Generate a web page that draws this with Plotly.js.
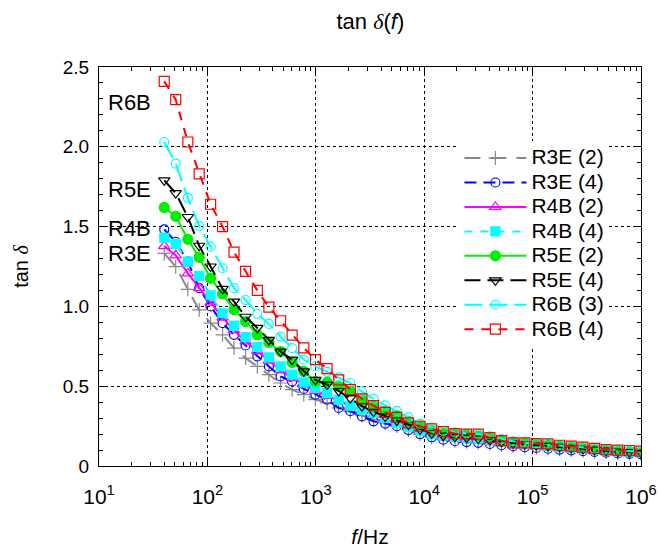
<!DOCTYPE html>
<html>
<head>
<meta charset="utf-8">
<script src="https://cdn.plot.ly/plotly-3.0.1.min.js"></script>
<style>html,body{margin:0;padding:0;background:#fff;}#chart{width:659px;height:548px;}</style>
</head>
<body>
<div id="chart"></div>
<script>
const freq = [40, 51, 66, 84, 107, 138, 176, 225, 289, 369, 473, 605, 775, 992, 1270, 1626, 2081, 2664, 3411, 4367, 5590, 7156, 9161, 11730, 15010, 19220, 24610, 31500, 40330, 51630, 66100, 84620, 108300, 138700, 177500, 227300, 291000, 372500, 476900, 610500, 781600, 1000000];

const r3e2 = [1.332, 1.249, 1.107, 0.978, 0.895, 0.822, 0.739, 0.676, 0.624, 0.572, 0.52, 0.478, 0.447, 0.416, 0.395, 0.364, 0.34, 0.315, 0.29, 0.27, 0.25, 0.225, 0.2, 0.18, 0.165, 0.158, 0.153, 0.148, 0.14, 0.132, 0.125, 0.12, 0.115, 0.11, 0.105, 0.1, 0.095, 0.09, 0.086, 0.082, 0.079, 0.076];
const r3e4 = [1.482, 1.405, 1.28, 1.114, 1.0, 0.895, 0.822, 0.755, 0.686, 0.624, 0.561, 0.53, 0.483, 0.447, 0.416, 0.364, 0.343, 0.311, 0.28, 0.266, 0.249, 0.225, 0.2, 0.18, 0.165, 0.155, 0.15, 0.145, 0.138, 0.13, 0.124, 0.118, 0.113, 0.108, 0.103, 0.098, 0.093, 0.088, 0.083, 0.079, 0.076, 0.073];
const r4b2 = [1.378, 1.32, 1.207, 1.114, 1.024, 0.93, 0.85, 0.78, 0.72, 0.66, 0.6, 0.55, 0.51, 0.47, 0.44, 0.41, 0.375, 0.345, 0.32, 0.295, 0.27, 0.245, 0.215, 0.195, 0.18, 0.17, 0.165, 0.16, 0.15, 0.14, 0.131, 0.125, 0.12, 0.115, 0.11, 0.104, 0.098, 0.092, 0.087, 0.082, 0.078, 0.075];
const r4b4 = [1.43, 1.39, 1.28, 1.19, 1.07, 0.957, 0.878, 0.807, 0.745, 0.68, 0.624, 0.572, 0.524, 0.489, 0.457, 0.416, 0.378, 0.353, 0.333, 0.301, 0.27, 0.245, 0.22, 0.2, 0.19, 0.182, 0.177, 0.172, 0.162, 0.152, 0.143, 0.137, 0.131, 0.126, 0.12, 0.113, 0.107, 0.101, 0.095, 0.091, 0.087, 0.083];
const r5e2 = [1.62, 1.565, 1.42, 1.307, 1.176, 1.078, 0.98, 0.905, 0.822, 0.774, 0.717, 0.649, 0.593, 0.53, 0.524, 0.50, 0.468, 0.416, 0.374, 0.343, 0.316, 0.28, 0.25, 0.222, 0.205, 0.198, 0.193, 0.188, 0.174, 0.16, 0.15, 0.145, 0.14, 0.135, 0.128, 0.121, 0.114, 0.107, 0.1, 0.096, 0.092, 0.088];
const r5e4 = [1.79, 1.71, 1.56, 1.38, 1.25, 1.11, 1.03, 0.935, 0.865, 0.79, 0.717, 0.666, 0.593, 0.54, 0.51, 0.47, 0.425, 0.375, 0.34, 0.31, 0.285, 0.26, 0.23, 0.205, 0.19, 0.183, 0.178, 0.172, 0.162, 0.152, 0.143, 0.137, 0.131, 0.126, 0.12, 0.114, 0.108, 0.102, 0.096, 0.091, 0.087, 0.083];
const r6b3 = [2.03, 1.895, 1.68, 1.503, 1.374, 1.239, 1.114, 1.04, 0.953, 0.89, 0.81, 0.739, 0.666, 0.624, 0.59, 0.555, 0.52, 0.468, 0.42, 0.38, 0.345, 0.305, 0.265, 0.24, 0.22, 0.21, 0.205, 0.2, 0.185, 0.168, 0.155, 0.148, 0.142, 0.138, 0.13, 0.123, 0.116, 0.109, 0.102, 0.097, 0.093, 0.089];
const r6b4 = [2.41, 2.295, 2.03, 1.83, 1.64, 1.50, 1.34, 1.22, 1.10, 0.995, 0.91, 0.82, 0.74, 0.666, 0.61, 0.54, 0.478, 0.42, 0.378, 0.336, 0.305, 0.27, 0.249, 0.232, 0.216, 0.203, 0.20, 0.20, 0.178, 0.159, 0.145, 0.145, 0.14, 0.139, 0.13, 0.124, 0.118, 0.111, 0.103, 0.099, 0.097, 0.093];

const seriesNames = ['R3E (2)', 'R3E (4)', 'R4B (2)', 'R4B (4)', 'R5E (2)', 'R5E (4)', 'R6B (3)', 'R6B (4)'];
const seriesData = [r3e2, r3e4, r4b2, r4b4, r5e2, r5e4, r6b3, r6b4];

const xTickVals = [10, 100, 1000, 10000, 100000, 1000000];
const xTickText = ['10<sup>1</sup>', '10<sup>2</sup>', '10<sup>3</sup>', '10<sup>4</sup>', '10<sup>5</sup>', '10<sup>6</sup>'];
const yTickVals = [0, 0.5, 1.0, 1.5, 2.0, 2.5];
const yTickText = ['0', '0.5', '1.0', '1.5', '2.0', '2.5'];
const sampleLabels = ['R6B', 'R5E', 'R4B', 'R3E'];
const sampleLabelY = [2.28, 1.73, 1.49, 1.33];

const styles = [
  {color: '#888888', dash: '16px,10px', symbol: 'cross-thin-open', size: 10},
  {color: '#0000ff', dash: '12px,7px', symbol: 'circle-open', size: 9},
  {color: '#ff00ff', dash: 'solid', symbol: 'triangle-up-open', size: 10},
  {color: '#00ffff', dash: '8px,8px', symbol: 'square', size: 9},
  {color: '#00ee00', dash: 'solid', symbol: 'circle', size: 10},
  {color: '#000000', dash: '16px,7px', symbol: 'triangle-down-open', size: 10},
  {color: '#00ffff', dash: '18px,7px', symbol: 'circle-open', size: 9},
  {color: '#ff0000', dash: '9px,8px', symbol: 'square-open', size: 10}
];

const traces = seriesData.map((ys, i) => ({
  type: 'scatter',
  mode: 'lines+markers',
  name: '<span style="font-size:21px">' + seriesNames[i] + '</span>',
  x: freq,
  y: ys,
  line: {color: styles[i].color, width: 2, dash: styles[i].dash},
  marker: {symbol: styles[i].symbol, size: styles[i].size, color: styles[i].color,
           line: {color: styles[i].color, width: 1.2}}
}));

const font = 'Liberation Sans, Arial, sans-serif';
const serifDelta = '<span style="font-family:Liberation Serif, Times New Roman, serif"><i>δ</i></span>';

const annotations = sampleLabels.map((t, i) => ({
  text: t, xref: 'paper', yref: 'y', x: 0.012, y: sampleLabelY[i],
  xanchor: 'left', yanchor: 'middle', showarrow: false,
  font: {family: font, size: 22, color: '#000'}
}));

const layout = {
  width: 659, height: 548,
  margin: {l: 99, r: 18, t: 67, b: 82},
  paper_bgcolor: '#fff', plot_bgcolor: '#fff',
  font: {family: font, size: 19, color: '#000'},
  title: {text: 'tan ' + serifDelta + '(<i>f</i>)', x: 0.562, xanchor: 'center', y: 0.962, yanchor: 'middle',
          font: {family: font, size: 22, color: '#000'}},
  showlegend: true,
  legend: {x: 0.665, y: 0.815, xanchor: 'left', yanchor: 'top', bgcolor: '#fff',
           font: {family: font, size: 16.5, color: '#000'}, itemwidth: 62, tracegroupgap: 0},
  xaxis: {
    type: 'log', range: [1, 6], tickvals: xTickVals, ticktext: xTickText,
    showline: true, linecolor: '#000', linewidth: 1, mirror: 'allticks',
    ticks: 'inside', ticklen: 8, tickcolor: '#000', tickwidth: 1,
    showgrid: true, gridcolor: '#000', griddash: 'dot', gridwidth: 1,
    minor: {ticks: 'inside', ticklen: 4, tickcolor: '#000', dtick: 'D1', showgrid: false},
    tickfont: {family: font, size: 21, color: '#000'},
    ticklabelstandoff: 12,
    title: {text: '<i>f</i>/Hz', font: {family: font, size: 21, color: '#000'}, standoff: 26},
    zeroline: false
  },
  yaxis: {
    range: [0, 2.5], tickvals: yTickVals, ticktext: yTickText,
    showline: true, linecolor: '#000', linewidth: 1, mirror: 'allticks',
    ticks: 'inside', ticklen: 8, tickcolor: '#000', tickwidth: 1,
    showgrid: true, gridcolor: '#000', griddash: 'dot', gridwidth: 1,
    minor: {ticks: 'inside', ticklen: 4, tickcolor: '#000', dtick: 0.1, tick0: 0, showgrid: false},
    tickfont: {family: font, size: 19, color: '#000'},
    ticklabelstandoff: 5,
    title: {text: 'tan ' + serifDelta, font: {family: font, size: 20, color: '#000'}, standoff: 28},
    zeroline: false
  },
  annotations: annotations
};

Plotly.newPlot('chart', traces, layout, {staticPlot: true, displayModeBar: false});
</script>
</body>
</html>
